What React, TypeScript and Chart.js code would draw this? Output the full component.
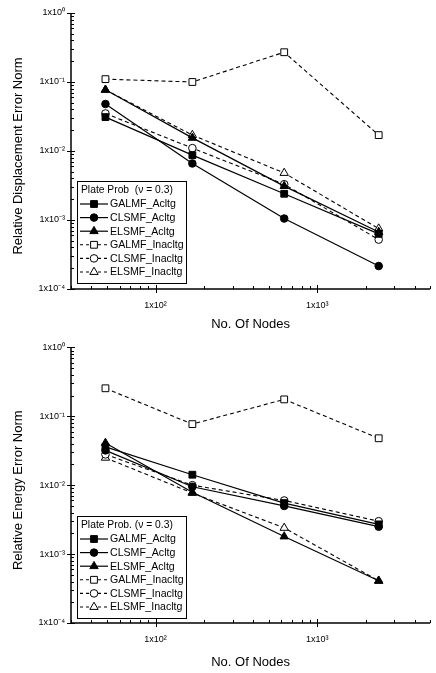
import React, { useEffect, useRef } from 'react';
import { Chart, registerables } from 'chart.js';

Chart.register(...registerables);

// ---------- data ----------
const nodes = [49, 169, 625, 2401];
const seriesLabels = ['GALMF_Acltg', 'CLSMF_Acltg', 'ELSMF_Acltg', 'GALMF_Inacltg', 'CLSMF_Inacltg', 'ELSMF_Inacltg'];

const dispGalmfActg = [0.031, 0.0087, 0.0024, 0.00063];
const dispClsmfActg = [0.048, 0.0066, 0.00105, 0.000215];
const dispElsmfActg = [0.077, 0.0155, 0.0031, 0.00067];
const dispGalmfInactg = [0.11, 0.1, 0.27, 0.017];
const dispClsmfInactg = [0.035, 0.011, 0.0033, 0.00052];
const dispElsmfInactg = [0.077, 0.017, 0.0048, 0.00075];

const energyGalmfActg = [0.036, 0.0142, 0.0055, 0.0027];
const energyClsmfActg = [0.032, 0.0095, 0.005, 0.0025];
const energyElsmfActg = [0.041, 0.0079, 0.0018, 0.00041];
const energyGalmfInactg = [0.255, 0.077, 0.176, 0.048];
const energyClsmfInactg = [0.028, 0.01, 0.006, 0.003];
const energyElsmfInactg = [0.025, 0.0077, 0.0024, 0.00041];

const xTickValues = [100, 1000];
const xTickLabels = ['1x10²', '1x10³'];
const yTickValues = [1e-4, 1e-3, 1e-2, 1e-1, 1];
const yTickLabels = ['1x10⁻⁴', '1x10⁻³', '1x10⁻²', '1x10⁻¹', '1x10⁰'];

const xTitle = 'No. Of Nodes';
const topYTitle = 'Relative Displacement Error Norm';
const bottomYTitle = 'Relative Energy Error Norm';
const topLegendTitle = 'Plate Prob  (ν = 0.3)';
const bottomLegendTitle = 'Plate Prob. (ν = 0.3)';

// ---------- styles ----------
const FONT = '"Liberation Sans", Arial, Helvetica, sans-serif';
const pointStyles = ['rect', 'circle', 'triangle', 'rect', 'circle', 'triangle'];
const pointRadii = [4.8, 3.8, 4.8, 4.8, 3.8, 4.8];

function drawMarker(ctx: CanvasRenderingContext2D, style: string, x: number, y: number, r: number, fill: string) {
  ctx.beginPath();
  if (style === 'rect') {
    const s = Math.SQRT1_2 * r;
    ctx.rect(x - s, y - s, 2 * s, 2 * s);
  } else if (style === 'circle') {
    ctx.arc(x, y, r, 0, Math.PI * 2);
  } else {
    let rad = 0;
    ctx.moveTo(x + Math.sin(rad) * r, y - Math.cos(rad) * r);
    rad += (2 * Math.PI) / 3;
    ctx.lineTo(x + Math.sin(rad) * r, y - Math.cos(rad) * r);
    rad += (2 * Math.PI) / 3;
    ctx.lineTo(x + Math.sin(rad) * r, y - Math.cos(rad) * r);
    ctx.closePath();
  }
  ctx.setLineDash([]);
  ctx.fillStyle = fill;
  ctx.fill();
  ctx.lineWidth = 1;
  ctx.strokeStyle = '#000';
  ctx.stroke();
}

const decoPlugin = {
  id: 'deco',
  afterDraw(chart: any, _args: any, opts: any) {
    const { ctx, chartArea: a, scales } = chart;
    const xs = scales.x;
    const ys = scales.y;
    ctx.save();
    // axes lines
    ctx.strokeStyle = '#000';
    ctx.lineWidth = 1.5;
    ctx.setLineDash([]);
    ctx.beginPath();
    ctx.moveTo(a.left, a.top);
    ctx.lineTo(a.left, a.bottom);
    ctx.lineTo(a.right, a.bottom);
    ctx.stroke();
    // ticks
    ctx.lineWidth = 1;
    ctx.beginPath();
    for (let e = 1; e <= 3; e++) {
      for (let m = 1; m <= 9; m++) {
        const v = m * Math.pow(10, e);
        if (v < xs.min || v > xs.max) continue;
        const px = Math.round(xs.getPixelForValue(v)) + 0.5;
        const major = m === 1;
        ctx.moveTo(px, a.bottom + (major ? 4 : 0));
        ctx.lineTo(px, a.bottom - (major ? 4 : 3));
      }
    }
    for (let e = -4; e <= 0; e++) {
      for (let m = 1; m <= 9; m++) {
        const v = m * Math.pow(10, e);
        if (v < ys.min * 0.999 || v > ys.max * 1.001) continue;
        const py = Math.round(ys.getPixelForValue(v)) + 0.5;
        const major = m === 1;
        ctx.moveTo(a.left - (major ? 4 : 0), py);
        ctx.lineTo(a.left + (major ? 4 : 3), py);
      }
    }
    ctx.stroke();

    // axis titles
    ctx.fillStyle = '#000';
    ctx.font = `13px ${FONT}`;
    ctx.textAlign = 'center';
    ctx.textBaseline = 'middle';
    ctx.fillText(opts.xTitle, (a.left + a.right) / 2, a.bottom + opts.xTitleOffset);
    ctx.save();
    ctx.translate(18, (a.top + a.bottom) / 2 + 5);
    ctx.rotate(-Math.PI / 2);
    ctx.fillText(opts.yTitle, 0, 0);
    ctx.restore();

    // legend box
    const w = 109;
    const h = 102;
    const left = a.left + opts.legendDx;
    const top = a.bottom - opts.legendDy - h;
    ctx.fillStyle = '#fff';
    ctx.fillRect(left, top, w, h);
    ctx.strokeStyle = '#000';
    ctx.lineWidth = 1;
    ctx.strokeRect(left + 0.5, top + 0.5, w, h);
    ctx.fillStyle = '#000';
    ctx.textAlign = 'left';
    ctx.textBaseline = 'middle';
    ctx.font = `10.3px ${FONT}`;
    ctx.fillText(opts.legendTitle, left + 4, top + 9);
    ctx.font = `10.6px ${FONT}`;
    chart.data.datasets.forEach((ds: any, i: number) => {
      const y = top + 23 + i * 13.6;
      ctx.beginPath();
      ctx.setLineDash(ds.borderDash && ds.borderDash.length ? [3, 3] : []);
      ctx.lineWidth = ds.borderWidth;
      ctx.strokeStyle = '#000';
      ctx.moveTo(left + 3, y);
      ctx.lineTo(left + 31, y);
      ctx.stroke();
      drawMarker(ctx, ds.pointStyle, left + 17, y, ds.pointRadius, ds.pointBackgroundColor);
      ctx.fillStyle = '#000';
      ctx.fillText(ds.label, left + 33, y + 0.5);
    });
    ctx.restore();
  },
};

type Spec = {
  series: number[][];
  yTitle: string;
  legendTitle: string;
  height: number;
  padTop: number;
  xAxisHeight: number;
  xTitleOffset: number;
  legendDy: number;
};

function makeDatasets(series: number[][]) {
  return series.map((vals, i) => ({
    label: seriesLabels[i],
    data: nodes.map((n, j) => ({ x: n, y: vals[j] })),
    borderColor: '#000',
    borderWidth: i < 3 ? 1.2 : 1.1,
    borderDash: i < 3 ? [] : [4, 3],
    pointStyle: pointStyles[i],
    pointRadius: pointRadii[i],
    pointBackgroundColor: i < 3 ? '#000' : '#fff',
    pointBorderColor: '#000',
    pointBorderWidth: 1,
    fill: false,
    tension: 0,
    clip: false as any,
  }));
}

function LogChart({ spec }: { spec: Spec }) {
  const ref = useRef<HTMLCanvasElement>(null);
  useEffect(() => {
    if (!ref.current) return;
    const chart = new Chart(ref.current, {
      type: 'line',
      data: { datasets: makeDatasets(spec.series) as any },
      options: {
        animation: false,
        responsive: false,
        devicePixelRatio: 1,
        layout: { padding: { top: spec.padTop, right: 2, left: 0, bottom: 0 } },
        scales: {
          x: {
            type: 'logarithmic',
            min: 30,
            max: 5000,
            afterBuildTicks: (s: any) => {
              s.ticks = xTickValues.map((v) => ({ value: v }));
            },
            afterFit: (s: any) => {
              s.height = spec.xAxisHeight;
            },
            ticks: {
              autoSkip: false,
              maxRotation: 0,
              padding: 11,
              color: '#000',
              font: { family: FONT, size: 9 },
              callback: (v: any) => {
                const i = xTickValues.indexOf(Number(v));
                return i >= 0 ? xTickLabels[i] : '';
              },
            },
            grid: { display: false, drawTicks: false },
            border: { display: false },
          },
          y: {
            type: 'logarithmic',
            min: 1e-4,
            max: 1,
            afterBuildTicks: (s: any) => {
              s.ticks = yTickValues.map((v) => ({ value: v }));
            },
            afterFit: (s: any) => {
              s.width = 71;
            },
            ticks: {
              autoSkip: false,
              padding: 6,
              color: '#000',
              font: { family: FONT, size: 9 },
              callback: (v: any) => {
                const n = Number(v);
                const i = yTickValues.findIndex((t) => Math.abs(t - n) / t < 1e-6);
                return i >= 0 ? yTickLabels[i] : '';
              },
            },
            grid: { display: false, drawTicks: false },
            border: { display: false },
          },
        },
        plugins: {
          legend: { display: false },
          tooltip: { enabled: false },
          deco: {
            xTitle,
            yTitle: spec.yTitle,
            legendTitle: spec.legendTitle,
            xTitleOffset: spec.xTitleOffset,
            legendDx: 6,
            legendDy: spec.legendDy,
          },
        } as any,
      },
      plugins: [decoPlugin],
    });
    return () => chart.destroy();
  }, []);
  return (
    <canvas
      ref={ref}
      width={436}
      height={spec.height}
      style={{ display: 'block', width: 436, height: spec.height }}
    />
  );
}

const topSpec: Spec = {
  series: [dispGalmfActg, dispClsmfActg, dispElsmfActg, dispGalmfInactg, dispClsmfInactg, dispElsmfInactg],
  yTitle: topYTitle,
  legendTitle: topLegendTitle,
  height: 336,
  padTop: 13,
  xAxisHeight: 47,
  xTitleOffset: 35,
  legendDy: 6,
};

const bottomSpec: Spec = {
  series: [energyGalmfActg, energyClsmfActg, energyElsmfActg, energyGalmfInactg, energyClsmfInactg, energyElsmfInactg],
  yTitle: bottomYTitle,
  legendTitle: bottomLegendTitle,
  height: 337,
  padTop: 11,
  xAxisHeight: 50,
  xTitleOffset: 39,
  legendDy: 5,
};

export default function App() {
  return (
    <div style={{ position: 'absolute', left: 0, top: 0, width: 436, height: 673, background: '#fff' }}>
      <LogChart spec={topSpec} />
      <LogChart spec={bottomSpec} />
    </div>
  );
}
